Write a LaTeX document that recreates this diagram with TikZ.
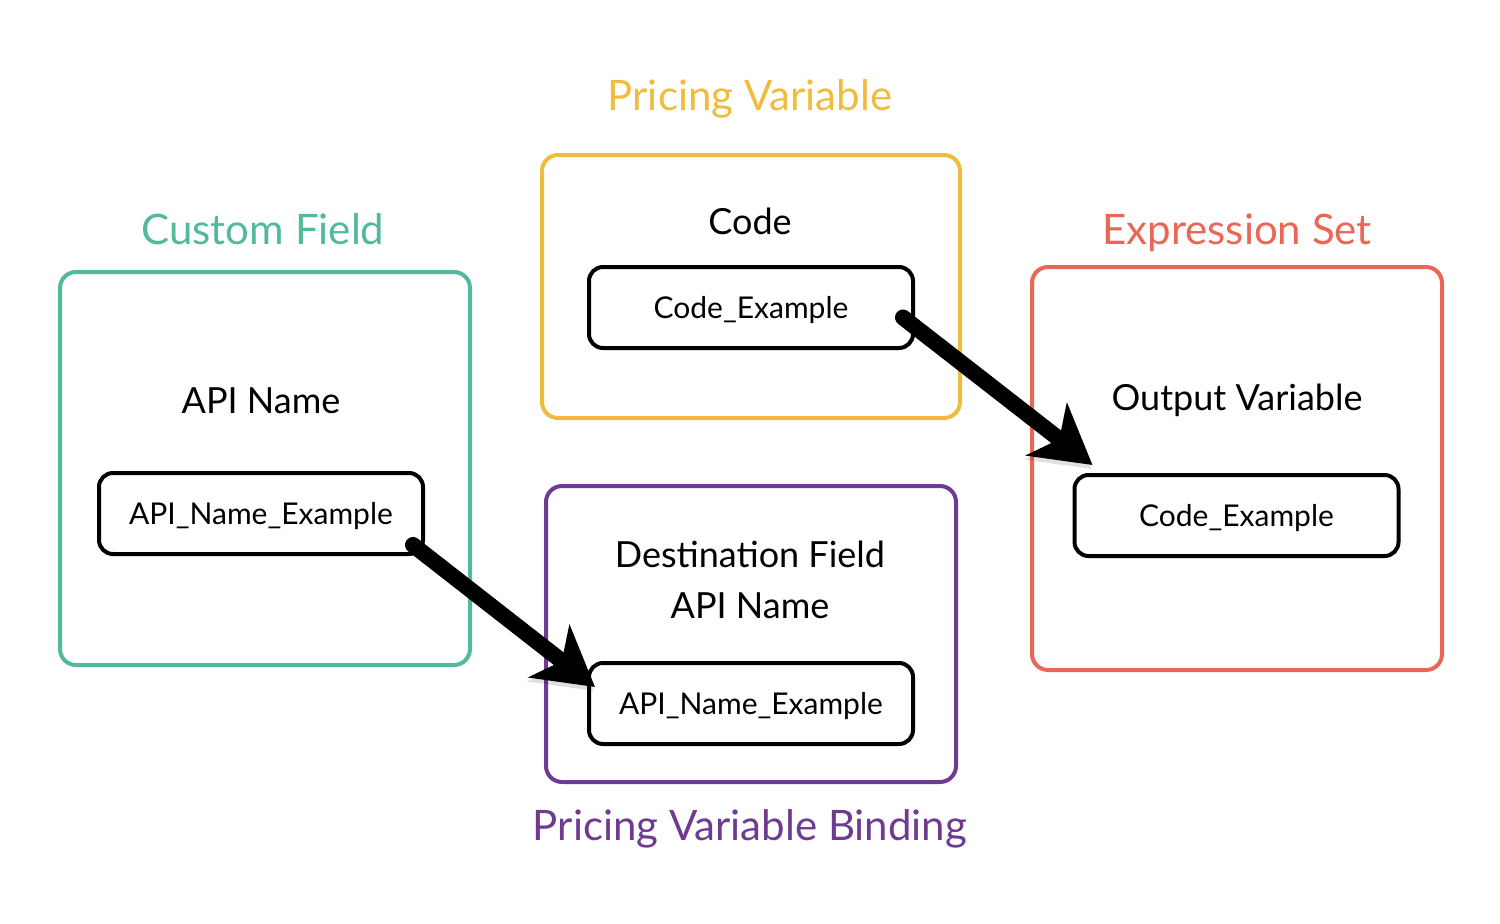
\documentclass[tikz,border=0pt]{standalone}
\usepackage{fontspec}
\setmainfont{Lato}
\usepackage{xcolor}
\usetikzlibrary{positioning,arrows.meta}

\definecolor{fieldgreen}{HTML}{52B89E}
\definecolor{pricegold}{HTML}{F0BC3E}
\definecolor{exprred}{HTML}{EC6655}
\definecolor{bindpurple}{HTML}{6E3B90}

\begin{document}
\begin{tikzpicture}[
    x=1pt, y=-1pt,
    group/.style={draw=#1, line width=4pt, rounded corners=16pt, inner sep=0pt},
    field/.style={draw, line width=4pt, rounded corners=14pt, minimum width=324pt, minimum height=81pt, inner sep=0pt,
        text height=24pt, text depth=2.4pt, font=\fontsize{30}{36}\selectfont},
    title/.style={text=#1, anchor=base, inner sep=0pt, font=\fontsize{42}{50}\selectfont},
    label/.style={anchor=base, inner sep=0pt, font=\fontsize{36}{43}\selectfont},
    arrow/.style={-{Stealth[length=58pt, width=66pt, inset=16pt]}, line width=16pt, line cap=round,
        preaction={draw=black, opacity=.12, transform canvas={shift={(-1pt,-4pt)}}}},
]
    \useasboundingbox (0,0) rectangle (1500,924);

    % outer groups
    \node[group=fieldgreen, minimum width=410pt, minimum height=393pt] (custom) at (265,468.5) {};
    \node[group=pricegold, minimum width=418pt, minimum height=263pt] (pricing) at (751,286.5) {};
    \node[group=exprred, minimum width=410pt, minimum height=403pt] (expr) at (1237,468.5) {};
    \node[group=bindpurple, minimum width=410pt, minimum height=296pt] (binding) at (751,634) {};

    % titles
    \node[title=fieldgreen] (customtitle) at (263,244) {Custom Field};
    \node[title=pricegold] (pricingtitle) at (750,110) {Pricing Variable};
    \node[title=exprred] (exprtitle) at (1237,244) {Expression Set};
    \node[title=bindpurple] (bindingtitle) at (750,840) {Pricing Variable Binding};

    % labels
    \node[label] (apilabel) at (261,413) {API Name};
    \node[label] (codelabel) at (750,234) {Code};
    \node[label] (outlabel) at (1237,410) {Output Variable};
    \node[label] (destlabel) at (750,567) {Destination Field};
    \node[label] (destlabel2) at (750,618) {API Name};

    % value boxes
    \node[field] (apiname) at (261,513.5) {API\_Name\_Example};
    \node[field] (code) at (751,307.5) {Code\_Example};
    \node[field] (outcode) at (1236.5,515.5) {Code\_Example};
    \node[field] (destapi) at (751,703.5) {API\_Name\_Example};

    % mappings
    \draw[arrow] ([xshift=-12pt,yshift=-10pt]code.east) -- ([xshift=20pt,yshift=8pt]outcode.north west);
    \draw[arrow] ([xshift=-12pt,yshift=11pt]apiname.south east) -- ([xshift=8pt,yshift=-26pt]destapi.north west);
\end{tikzpicture}
\end{document}
